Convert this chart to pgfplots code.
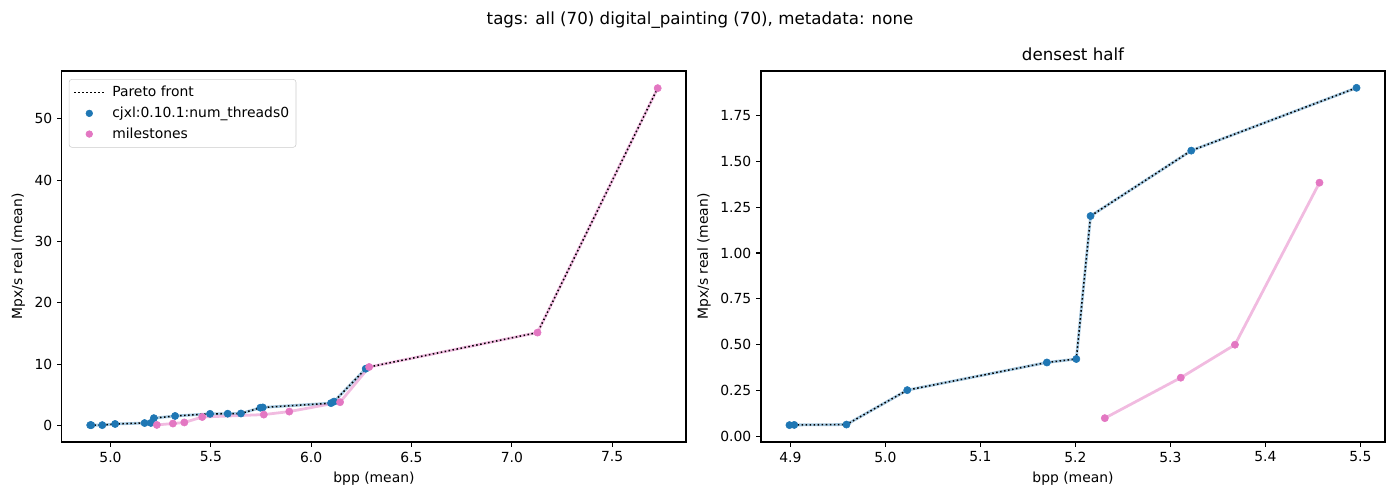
\documentclass[border=0pt]{standalone}
\usepackage{fontspec}
\setmainfont{DejaVu Sans}
\usepackage{pgfplots}
\usepackage{pgfplotstable}
\pgfplotsset{compat=1.18}
\definecolor{c0}{HTML}{1F77B4}
\definecolor{c6}{HTML}{E377C2}

\pgfplotstableread{
x y
4.899 0.060
4.904 0.061
4.959 0.063
5.023 0.251
5.170 0.402
5.201 0.421
5.216 1.202
5.322 1.559
5.496 1.902
5.584 1.93
5.650 1.96
5.747 2.90
5.759 2.95
6.099 3.65
6.114 3.90
6.272 9.26
}\blueall

\pgfplotstableread{
x y
5.231 0.098
5.311 0.319
5.368 0.499
5.457 1.384
5.764 1.78
5.891 2.27
6.144 3.80
6.289 9.54
7.128 15.15
7.727 55.0
}\pinkall

\pgfplotstableread{
x y
4.899 0.060
4.904 0.061
4.959 0.063
5.023 0.251
5.170 0.402
5.201 0.421
5.216 1.202
5.322 1.559
5.496 1.902
5.584 1.93
5.650 1.96
5.747 2.90
5.759 2.95
6.099 3.65
6.114 3.90
6.272 9.26
6.289 9.54
7.128 15.15
7.727 55.0
}\paretoall

\pgfplotstableread{
x y
4.899 0.060
4.904 0.061
4.959 0.063
5.023 0.251
5.170 0.402
5.201 0.421
5.216 1.202
5.322 1.559
5.496 1.902
}\bluehalf

\pgfplotstableread{
x y
5.231 0.098
5.311 0.319
5.368 0.499
5.457 1.384
}\pinkhalf

\pgfplotsset{
  mystyle/.style={
    anchor=south west,
    width=449.3pt, height=267.1pt, scale only axis,
    axis line style={black, line width=0.8pt},
    tick align=outside, tick pos=left,
    major tick length=3.5pt,
    every tick/.style={black, line width=0.8pt},
    tick label style={font=\fontsize{10}{12}\selectfont},
    label style={font=\fontsize{10}{12}\selectfont},
    /pgf/number format/assume math mode=true,
    xlabel={bpp (mean)}, ylabel={Mpx/s real (mean)},
    scaled ticks=false,
  },
  bline/.style={c0, opacity=0.4, line width=2pt, forget plot},
  pline/.style={c6, opacity=0.5, line width=2pt, forget plot},
  bmark/.style={only marks, mark=*, mark size=2.6pt, c0, forget plot},
  pmark/.style={only marks, mark=*, mark size=2.6pt, c6, forget plot},
  pareto/.style={black, line width=1.1pt, dash pattern=on 1.1pt off 1.8pt},
}

\begin{document}
\begin{tikzpicture}
\useasboundingbox (0,0) rectangle (1008pt,360pt);
\node[font=\fontsize{12}{14}\selectfont] at (504pt,345.5pt) {tags: all (70) digital\_painting (70), metadata: none};

\begin{axis}[mystyle, at={(44.6pt,41.8pt)},
  xmin=4.758, xmax=7.868, ymin=-2.68, ymax=57.8,
  xtick={5,5.5,6,6.5,7,7.5}, ytick={0,10,20,30,40,50},
  xticklabel style={/pgf/number format/.cd, fixed, fixed zerofill, precision=1},
  legend style={at={(0.011,0.978)}, anchor=north west, draw=black!20, rounded corners=2pt,
    fill=white, fill opacity=0.8, text opacity=1, font=\fontsize{10}{12}\selectfont,
    cells={anchor=west}, row sep=1.8pt, inner sep=3pt,
    /tikz/every odd column/.append style={column sep=3pt}},
  legend image code/.code={\draw[#1, opacity=1] (0pt,0pt) -- (22pt,0pt);},
]
\addplot[bline] table {\blueall};
\addplot[bmark] table {\blueall};
\addplot[pline] table {\pinkall};
\addplot[pmark] table {\pinkall};
\addplot[pareto, forget plot] table {\paretoall};
\addlegendimage{pareto}
\addlegendentry{Pareto front}
\addlegendimage{c0, legend image code/.code={\fill[c0, fill opacity=1] (11pt,0pt) circle (2.4pt);}}
\addlegendentry{cjxl:0.10.1:num\_threads0}
\addlegendimage{c6, legend image code/.code={\fill[c6, fill opacity=1] (11pt,0pt) circle (2.4pt);}}
\addlegendentry{milestones}
\end{axis}

\begin{axis}[mystyle, at={(547.9pt,41.8pt)},
  xmin=4.869, xmax=5.526, ymin=-0.032, ymax=1.994,
  xtick={4.9,5.0,5.1,5.2,5.3,5.4,5.5},
  ytick={0,0.25,0.5,0.75,1,1.25,1.5,1.75},
  xticklabel style={/pgf/number format/.cd, fixed, fixed zerofill, precision=1},
  yticklabel style={/pgf/number format/.cd, fixed, fixed zerofill, precision=2},
  title={densest half},
  title style={font=\fontsize{12}{14}\selectfont, yshift=-2.5pt},
]
\addplot[bline] table {\bluehalf};
\addplot[bmark] table {\bluehalf};
\addplot[pline] table {\pinkhalf};
\addplot[pmark] table {\pinkhalf};
\addplot[pareto, forget plot] table {\bluehalf};
\end{axis}
\end{tikzpicture}
\end{document}
